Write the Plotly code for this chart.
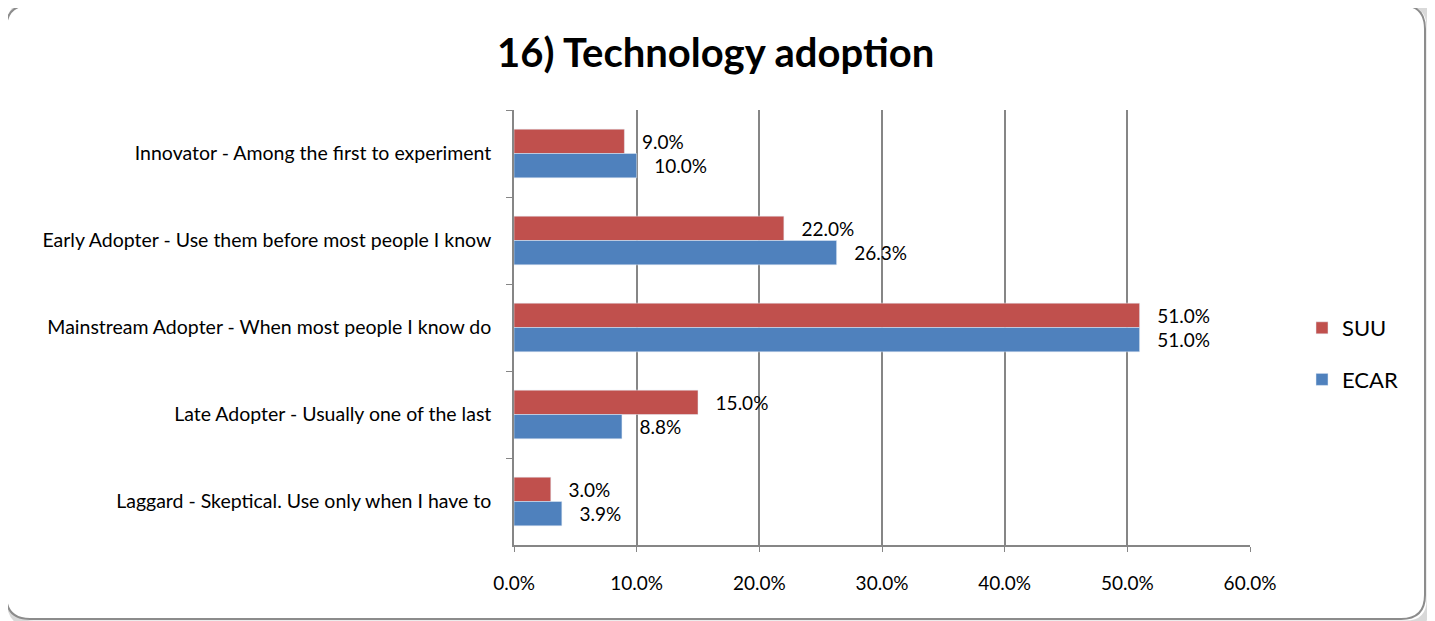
import plotly.graph_objects as go

categories = [
    "Innovator - Among the first to experiment",
    "Early Adopter - Use them before most people I know",
    "Mainstream Adopter - When most people I know do",
    "Late Adopter - Usually one of the last",
    "Laggard - Skeptical. Use only when I have to",
]
suu = [0.090, 0.220, 0.510, 0.150, 0.030]
ecar = [0.100, 0.263, 0.510, 0.088, 0.039]
x_ticks = [0, 0.1, 0.2, 0.3, 0.4, 0.5, 0.6]
x_tick_labels = ["0.0%", "10.0%", "20.0%", "30.0%", "40.0%", "50.0%", "60.0%"]

OFF = 8  # page body margin
W, H = 1435 - OFF, 621 - OFF
# targets in screen pixels
SL, SR, ST, SB = 514, 1250, 110, 545
L, R, T, B = SL - OFF, SR - OFF, ST - OFF, SB - OFF
FONT = "Lato"

def px(x):  # screen x -> paper
    return (x - SL) / (SR - SL)

def py(y):  # screen y -> paper
    return 1 - (y - ST) / (SB - ST)

fig = go.Figure()
fig.add_trace(go.Bar(
    y=categories, x=suu, orientation="h", name="SUU",
    marker=dict(color="#C0504D"),
    text=suu, texttemplate="   %{x:.1%}", textposition="outside",
    textfont=dict(family=FONT, size=19, color="#000000"),
    cliponaxis=False, legendgroup="a",
))
fig.add_trace(go.Bar(
    y=categories, x=ecar, orientation="h", name="ECAR",
    marker=dict(color="#4F81BD"),
    text=ecar, texttemplate="   %{x:.1%}", textposition="outside",
    textfont=dict(family=FONT, size=19, color="#000000"),
    cliponaxis=False, legendgroup="b",
))

# rounded border frame (screen pixel coordinates)
x0, x1, y0, y1, r = 6, 1425, 5, 619, 24
def rr_path(x0, y0, x1, y1, r):
    return (f"M {px(x0+r)} {py(y0)} L {px(x1-r)} {py(y0)} "
            f"Q {px(x1)} {py(y0)} {px(x1)} {py(y0+r)} "
            f"L {px(x1)} {py(y1-r)} Q {px(x1)} {py(y1)} {px(x1-r)} {py(y1)} "
            f"L {px(x0+r)} {py(y1)} Q {px(x0)} {py(y1)} {px(x0)} {py(y1-r)} "
            f"L {px(x0)} {py(y0+r)} Q {px(x0)} {py(y0)} {px(x0+r)} {py(y0)} Z")

shapes = [
    dict(type="path", xref="paper", yref="paper", layer="below",
         path=rr_path(x0 + 4, y0 - 2, x1 + 5, y1 + 5, r),
         line=dict(color="rgba(0,0,0,0.15)", width=7)),
    dict(type="path", xref="paper", yref="paper", layer="below",
         path=rr_path(x0, y0, x1, y1, r),
         line=dict(color="#8C8C8C", width=2), fillcolor="#FFFFFF"),
]

fig.update_layout(
    width=W, height=H,
    margin=dict(l=L, r=W - R, t=T, b=H - B, autoexpand=False),
    paper_bgcolor="#FFFFFF", plot_bgcolor="rgba(0,0,0,0)",
    barmode="group", bargap=0.44, bargroupgap=0,
    font=dict(family=FONT, size=19, color="#000000"),
    shapes=shapes,
    showlegend=True,
    legend=dict(x=px(1302), y=py(307), xanchor="left", yanchor="top",
                font=dict(family=FONT, size=22, color="#000000"),
                tracegroupgap=20, itemwidth=30, bgcolor="rgba(0,0,0,0)"),
    annotations=[dict(text="<b>16) Technology adoption</b>", xref="paper", yref="paper",
                      x=px(715), y=py(52), xanchor="center", yanchor="middle",
                      showarrow=False, font=dict(family=FONT, size=40, color="#000000"))],
)
fig.update_xaxes(range=[0, 0.6], tickvals=x_ticks, ticktext=x_tick_labels,
                 showgrid=True, gridcolor="#868686", gridwidth=1.5,
                 showline=True, linecolor="#868686", linewidth=1.5,
                 ticks="outside", ticklen=5, tickcolor="#868686",
                 ticklabelstandoff=15, zeroline=False,
                 tickfont=dict(family=FONT, size=19))
fig.update_yaxes(autorange="reversed", showgrid=False,
                 showline=True, linecolor="#868686", linewidth=1.5,
                 ticks="outside", ticklen=6, tickcolor="#868686", tickson="boundaries",
                 ticklabelstandoff=17,
                 tickfont=dict(family=FONT, size=19.5))

fig.write_html("out.html")
